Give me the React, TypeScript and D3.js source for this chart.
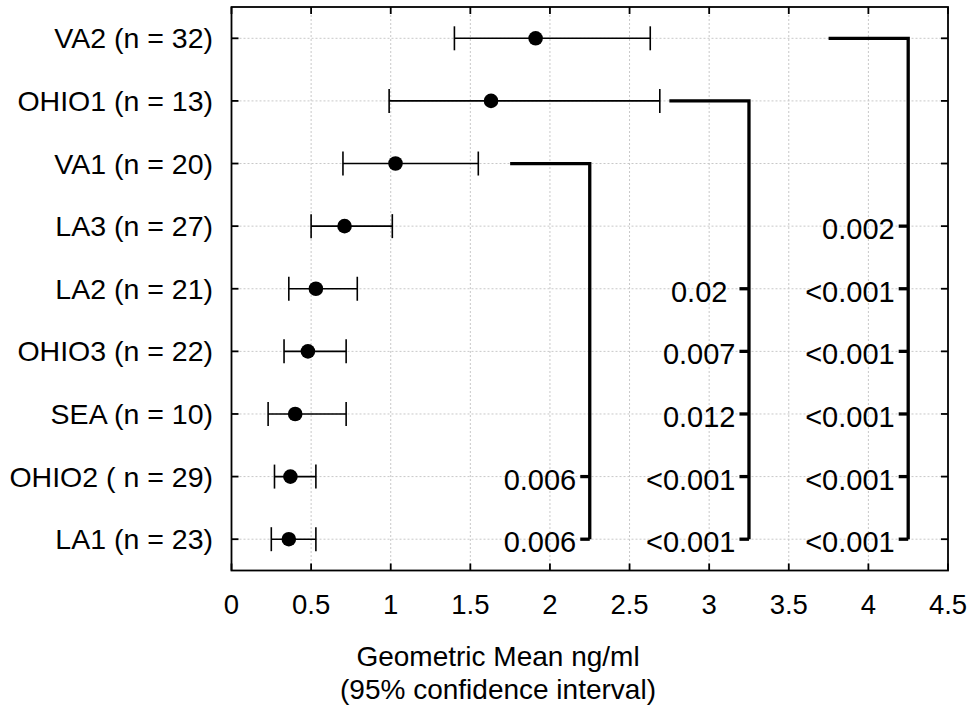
import { useMemo } from 'react'
import * as d3 from 'd3'

// Geometric means with 95% CI per site (top to bottom)
const sites = ['VA2 (n = 32)', 'OHIO1 (n = 13)', 'VA1 (n = 20)', 'LA3 (n = 27)', 'LA2 (n = 21)', 'OHIO3 (n = 22)', 'SEA (n = 10)', 'OHIO2 ( n = 29)', 'LA1 (n = 23)']
const means = [1.91, 1.63, 1.03, 0.71, 0.53, 0.48, 0.40, 0.37, 0.36]
const lower = [1.40, 0.99, 0.70, 0.50, 0.36, 0.33, 0.23, 0.27, 0.25]
const upper = [2.63, 2.69, 1.55, 1.01, 0.79, 0.72, 0.72, 0.53, 0.53]
const xTicks = [0, 0.5, 1, 1.5, 2, 2.5, 3, 3.5, 4, 4.5]

// comparison brackets: reference site, where the bar starts, where the spine sits, p-values
const brackets = [
  { from: 'VA1 (n = 20)', start: 1.75, at: 2.25, p: [['OHIO2 ( n = 29)', '0.006'], ['LA1 (n = 23)', '0.006']] },
  { from: 'OHIO1 (n = 13)', start: 2.75, at: 3.25, p: [['LA2 (n = 21)', '0.02\u00a0'], ['OHIO3 (n = 22)', '0.007'], ['SEA (n = 10)', '0.012'], ['OHIO2 ( n = 29)', '<0.001'], ['LA1 (n = 23)', '<0.001']] },
  { from: 'VA2 (n = 32)', start: 3.75, at: 4.25, p: [['LA3 (n = 27)', '0.002'], ['LA2 (n = 21)', '<0.001'], ['OHIO3 (n = 22)', '<0.001'], ['SEA (n = 10)', '<0.001'], ['OHIO2 ( n = 29)', '<0.001'], ['LA1 (n = 23)', '<0.001']] },
]

const W = 969
const H = 710
const left = 231.5, right = 948, top = 7, bottom = 570.5
const font = '"Liberation Sans", Arial, sans-serif'

export default function App() {
  const x = useMemo(() => d3.scaleLinear().domain([0, 4.5]).range([left, right]), [])
  const y = useMemo(() => d3.scalePoint<string>().domain(sites).range([top, bottom]).padding(0.5), [])

  const tickLen = 7
  const capH = 12
  const pTick = 9.5

  return (
    <svg width={W} height={H} style={{ position: 'absolute', left: 0, top: 0, background: '#fff' }} fontFamily={font}>
      <rect width={W} height={H} fill="#fff" />

      {/* grid */}
      <g stroke="#c8c8c8" strokeWidth={1} strokeDasharray="2,2">
        {xTicks.slice(1, -1).map(t => (
          <line key={'gx' + t} x1={x(t)} x2={x(t)} y1={top} y2={bottom} />
        ))}
        {sites.map(s => (
          <line key={'gy' + s} x1={left} x2={right} y1={y(s)} y2={y(s)} />
        ))}
      </g>

      {/* frame + inward ticks */}
      <g stroke="#000" strokeWidth={1.8} fill="none">
        <rect x={left} y={top} width={right - left} height={bottom - top} />
        {xTicks.map(t => (
          <g key={'tx' + t}>
            <line x1={x(t)} x2={x(t)} y1={top} y2={top + tickLen} />
            <line x1={x(t)} x2={x(t)} y1={bottom} y2={bottom - tickLen} />
          </g>
        ))}
        {sites.map(s => (
          <g key={'ty' + s}>
            <line x1={left} x2={left + tickLen} y1={y(s)} y2={y(s)} />
            <line x1={right} x2={right - tickLen} y1={y(s)} y2={y(s)} />
          </g>
        ))}
      </g>

      {/* x tick labels */}
      {xTicks.map(t => (
        <text key={'lx' + t} x={x(t)} y={614} textAnchor="middle" fontSize={27.5}>
          {d3.format('~g')(t)}
        </text>
      ))}

      {/* y labels */}
      {sites.map(s => (
        <text key={'ly' + s} x={213} y={(y(s) ?? 0) + 10} textAnchor="end" fontSize={28.5}>
          {s}
        </text>
      ))}

      {/* error bars */}
      <g stroke="#000" strokeWidth={1.6}>
        {sites.map((s, i) => {
          const cy = y(s) ?? 0
          return (
            <g key={'eb' + s}>
              <line x1={x(lower[i])} x2={x(upper[i])} y1={cy} y2={cy} />
              <line x1={x(lower[i])} x2={x(lower[i])} y1={cy - capH} y2={cy + capH} />
              <line x1={x(upper[i])} x2={x(upper[i])} y1={cy - capH} y2={cy + capH} />
            </g>
          )
        })}
      </g>
      {sites.map((s, i) => (
        <circle key={'pt' + s} cx={x(means[i])} cy={y(s)} r={7.3} fill="#000" />
      ))}

      {/* brackets with p-values */}
      {brackets.map((b, bi) => {
        const bx = x(b.at)
        const y0 = y(b.from) ?? 0
        const y1 = y(b.p[b.p.length - 1][0]) ?? 0
        return (
          <g key={'br' + bi}>
            <path
              d={`M${x(b.start)},${y0}H${bx}V${y1}`}
              fill="none"
              stroke="#000"
              strokeWidth={3.3}
            />
            {b.p.map(([site, label]) => {
              const cy = y(site) ?? 0
              return (
                <g key={site}>
                  <line x1={bx - pTick} x2={bx} y1={cy} y2={cy} stroke="#000" strokeWidth={3.3} />
                  <text x={bx - pTick - 4} y={cy + 13} textAnchor="end" fontSize={29} style={{ whiteSpace: 'pre' }}>
                    {label}
                  </text>
                </g>
              )
            })}
          </g>
        )
      })}

      {/* axis title */}
      <text x={498} y={666} textAnchor="middle" fontSize={28}>Geometric Mean ng/ml</text>
      <text x={498} y={699} textAnchor="middle" fontSize={28}>(95% confidence interval)</text>
    </svg>
  )
}
